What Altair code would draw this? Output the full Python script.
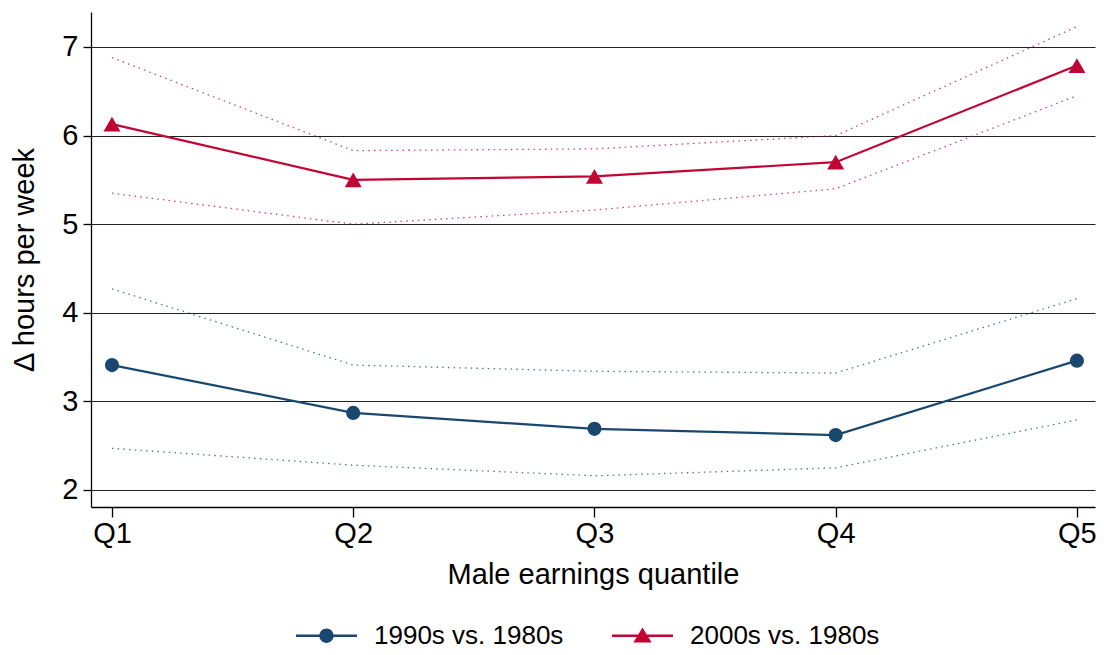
import altair as alt
import pandas as pd

# ---- data ----
quantiles = [1, 2, 3, 4, 5]
series_names = ["1990s vs. 1980s", "2000s vs. 1980s"]

est_1990s = [3.41, 2.87, 2.69, 2.62, 3.46]
hi_1990s = [4.27, 3.41, 3.34, 3.32, 4.16]
lo_1990s = [2.47, 2.28, 2.16, 2.25, 2.79]

est_2000s = [6.13, 5.50, 5.54, 5.70, 6.79]
hi_2000s = [6.88, 5.83, 5.85, 6.00, 7.23]
lo_2000s = [5.35, 5.00, 5.16, 5.40, 6.45]

y_ticks = [2, 3, 4, 5, 6, 7]
colors = ["#1a476f", "#c10534"]
marker_shapes = ["circle", "triangle-up"]
marker_sizes = [200, 290]

# ---- tables ----
rows, ci_rows = [], []
for s, est, hi, lo in [
    (series_names[0], est_1990s, hi_1990s, lo_1990s),
    (series_names[1], est_2000s, hi_2000s, lo_2000s),
]:
    for q, e, h, l in zip(quantiles, est, hi, lo):
        rows.append({"q": q, "val": e, "series": s})
        ci_rows.append({"q": q, "val": h, "series": s, "grp": s + " hi"})
        ci_rows.append({"q": q, "val": l, "series": s, "grp": s + " lo"})
df = pd.DataFrame(rows)
df_ci = pd.DataFrame(ci_rows)

FONT = "Liberation Sans"
FS = 29

x_enc = alt.X(
    "q:Q",
    scale=alt.Scale(domain=[0.913, 5.075], nice=False, zero=False),
    axis=alt.Axis(
        values=quantiles, labelExpr="'Q' + datum.value", grid=False,
        title="Male earnings quantile", tickSize=10, labelPadding=2,
        titlePadding=12,
    ),
)
y_enc = alt.Y(
    "val:Q",
    scale=alt.Scale(domain=[1.808, 7.395], nice=False, zero=False),
    axis=alt.Axis(
        values=y_ticks, grid=True, title="Δ hours per week",
        tickSize=8, labelPadding=5, titlePadding=22,
    ),
)

legend_paths = [
    "M-1,-0.045 L-0.23,-0.045 L-0.23,0.045 L-1,0.045 Z "
    "M0.23,-0.045 L1,-0.045 L1,0.045 L0.23,0.045 Z "
    "M0.235,0 A0.235,0.235 0 1,1 -0.235,0 A0.235,0.235 0 1,1 0.235,0 Z",
    "M-1,-0.045 L1,-0.045 L1,0.045 L-1,0.045 Z "
    "M0,-0.27 L0.30,0.22 L-0.30,0.22 Z",
]

leg = alt.Legend(
    orient="none", legendX=205, legendY=593, direction="horizontal",
    title=None, labelFontSize=26, labelFont=FONT, labelColor="black",
    labelLimit=0,
    symbolSize=3721, symbolStrokeWidth=0, symbolOpacity=1,
    labelOffset=17, columnPadding=48, padding=0,
)

layers = []
for s, c, shp, sz in zip(series_names, colors, marker_shapes, marker_sizes):
    ci = alt.Chart(df_ci).transform_filter(alt.datum.series == s).mark_line(
        strokeWidth=1.3, strokeDash=[1.5, 4.2], opacity=0.75, color=c
    ).encode(x=x_enc, y=y_enc, detail="grp:N")
    line = alt.Chart(df).transform_filter(alt.datum.series == s).mark_line(
        strokeWidth=2.2, color=c
    ).encode(x=x_enc, y=y_enc)
    pts = alt.Chart(df).transform_filter(alt.datum.series == s).mark_point(
        shape=shp, filled=True, size=sz, opacity=1, color=c
    ).encode(x=x_enc, y=y_enc)
    layers += [ci, line, pts]

legend_carrier = alt.Chart(df).transform_filter("datum.q < 0").mark_point(
    filled=True, size=3721, opacity=1
).encode(
    x=x_enc, y=y_enc,
    color=alt.Color("series:N",
                    scale=alt.Scale(domain=series_names, range=colors),
                    legend=leg),
    shape=alt.Shape("series:N",
                    scale=alt.Scale(domain=series_names, range=legend_paths),
                    legend=leg),
)
layers.append(legend_carrier)

chart = alt.layer(*layers).properties(
    width=1004, height=495,
    autosize=alt.AutoSizeParams(type="none"),
    padding={"left": 83, "top": 4, "right": 1, "bottom": 144},
    background="white",
).configure_view(stroke=None).configure_axis(
    labelFont=FONT, titleFont=FONT, labelFontSize=FS, titleFontSize=FS,
    titleFontWeight="normal", labelColor="black", titleColor="black",
    domainColor="black", tickColor="black", domainWidth=1.3, tickWidth=1.3,
    gridColor="#222222", gridWidth=1, gridOpacity=1,
)

chart.save("out.html", embed_options={"renderer": "svg", "actions": False})
